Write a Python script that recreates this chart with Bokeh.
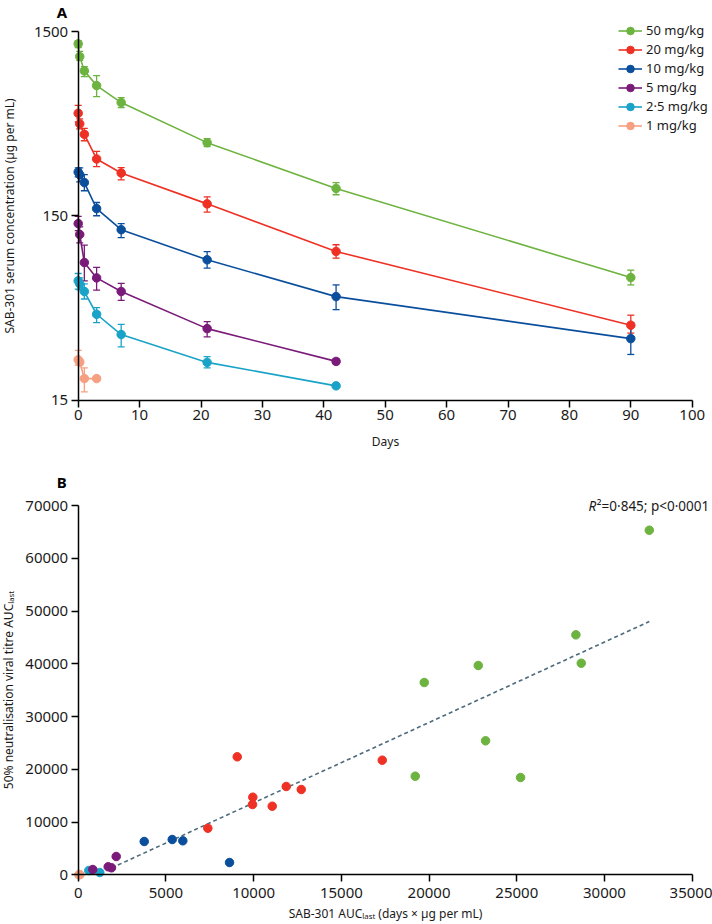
import math
from bokeh.plotting import figure
from bokeh.models import (ColumnDataSource, Whisker, TeeHead, Range1d, FixedTicker,
                          Legend, LegendItem, Label, NumeralTickFormatter)
from bokeh.layouts import column
from bokeh.embed import file_html
from bokeh.resources import INLINE

FONT = "Noto Sans"

# ---------------- Panel A data ----------------
days = [0, 0.25, 1, 3, 7, 21, 42, 90]
dose_labels = ["50 mg/kg", "20 mg/kg", "10 mg/kg", "5 mg/kg", "2·5 mg/kg", "1 mg/kg"]
dose_colors = ["#6db33f", "#ee3124", "#0b4f9c", "#7a1a79", "#1aa3c8", "#f7a081"]

conc_50 = [1286, 1097, 917, 763, 617, 374, 211, 69.3]
lo_50 = [1228, 1045, 854, 665, 580, 356, 195, 63.2]
hi_50 = [1340, 1170, 968, 864, 657, 393, 227, 76.0]

conc_20 = [540, 473, 415, 305, 256, 174, 96, 38.2]
lo_20 = [485, 444, 383, 277, 235, 157, 88.3, 34.6]
hi_20 = [596, 503, 447, 335, 274, 190, 104.4, 43.3]

conc_10 = [259, 250.5, 227, 164, 126, 86.5, 54.6, 32.3]
lo_10 = [244, 229, 205, 150, 114, 78, 46.4, 26.5]
hi_10 = [273, 273, 250.5, 177, 136, 95.7, 63.2, 39.3]

conc_5 = [136, 118.7, 83.6, 69, 58.2, 36.6, 24.3]
lo_5 = [124.6, 106.9, 66.4, 59.2, 52.1, 33, 23.6]
hi_5 = [148.7, 130.6, 104, 78.6, 64.4, 39.9, 25.1]

conc_2_5 = [66.5, 64, 58.2, 43.8, 34, 24, 17.9]
lo_2_5 = [60, 59.5, 53, 39.4, 29.1, 22.4, 17.9]
hi_2_5 = [72.9, 69, 64, 47.6, 38.6, 25.8, 17.9]

conc_1 = [24.8, 24.1, 19.6, 19.6]
lo_1 = [23.2, 23.2, 16.6, 19.6]
hi_1 = [27.9, 25.0, 22.4, 19.6]

a_xticks = [0, 10, 20, 30, 40, 50, 60, 70, 80, 90, 100]
a_yticks = [15, 150, 1500]

# ---------------- Panel B data ----------------
auc_50 = [19726, 22805, 28677, 23221, 19213, 25217, 32554, 28370]
titre_50 = [36448, 39670, 40107, 25398, 18689, 18442, 65315, 45489]
auc_20 = [7389, 9065, 9954, 9937, 11060, 11858, 12714, 17332]
titre_20 = [8832, 22365, 14708, 13324, 13002, 16736, 16168, 21721]
auc_10 = [3763, 5359, 5964, 8626]
titre_10 = [6312, 6691, 6444, 2331]
auc_5 = [832, 1710, 1898, 2166]
titre_5 = [1005, 1516, 1327, 3469]
auc_2_5 = [604, 1231]
titre_2_5 = [815, 436]
auc_1 = [40, 70, 100]
titre_1 = [20, 60, 30]

fit_slope = 1.524
fit_intercept = -1602
fit_x = [1900, 32554]
r2_text = "²=0·845; p<0·0001"

b_xticks = [0, 5000, 10000, 15000, 20000, 25000, 30000, 35000]
b_yticks = [0, 10000, 20000, 30000, 40000, 50000, 60000, 70000]

TXT = "#1a1a1a"

# ---------------- layout (pixels inside each figure) ----------------
W = 712
HA = 458
HB = 464
AX_LEFT = 77.7      # pixel of the y axis
AX_RIGHT = 691.7    # pixel of the last x tick
A_TOP, A_BOT = 31.0, 399.5
B_TOP, B_BOT = 47.0, 416.3


def span(v0, p0, v1, p1, pmin, pmax):
    k = (v1 - v0) / (p1 - p0)
    return v0 + (pmin - p0) * k, v0 + (pmax - p0) * k


def style_axes(p):
    for ax in (p.xaxis, p.yaxis):
        ax.axis_line_color = "black"
        ax.axis_line_width = 1.5
        ax.major_tick_line_color = "black"
        ax.major_tick_line_width = 1.5
        ax.major_tick_out = 7
        ax.major_tick_in = 0
        ax.minor_tick_line_color = None
        ax.major_label_text_font = FONT
        ax.major_label_text_font_size = "15px"
        ax.major_label_text_color = TXT
        ax.axis_label_text_font = FONT
        ax.axis_label_text_font_size = "12px"
        ax.axis_label_text_font_style = "normal"
        ax.axis_label_text_color = TXT
        ax.major_label_standoff = 3
    p.xgrid.visible = False
    p.ygrid.visible = False
    p.outline_line_color = None


# ---------------- Panel A ----------------
ax0, ax1 = span(a_xticks[0], AX_LEFT, a_xticks[-1], AX_RIGHT, 0, W)
ly0, ly1 = span(math.log10(a_yticks[0]), -A_BOT, math.log10(a_yticks[-1]), -A_TOP, -HA, 0)
pA = figure(width=W, height=HA, y_axis_type="log", title=None,
            x_range=Range1d(ax0, ax1), y_range=Range1d(10 ** ly0, 10 ** ly1),
            output_backend="svg", toolbar_location=None, min_border=0)
style_axes(pA)
pA.yaxis.fixed_location = a_xticks[0]
pA.xaxis.fixed_location = a_yticks[0]
pA.xaxis.bounds = (a_xticks[0], a_xticks[-1])
pA.yaxis.bounds = (a_yticks[0], a_yticks[-1])
pA.xaxis.ticker = FixedTicker(ticks=a_xticks)
pA.yaxis.ticker = FixedTicker(ticks=a_yticks)
pA.yaxis.major_label_overrides = {t: str(t) for t in a_yticks}
pA.xaxis.axis_label = "Days"
pA.yaxis.axis_label = "SAB-301 serum concentration (µg per mL)"
pA.yaxis.axis_label_standoff = 13
pA.xaxis.axis_label_standoff = 9
pA.xaxis.major_label_standoff = 3

seriesA = [
    (conc_50, lo_50, hi_50), (conc_20, lo_20, hi_20), (conc_10, lo_10, hi_10),
    (conc_5, lo_5, hi_5), (conc_2_5, lo_2_5, hi_2_5), (conc_1, lo_1, hi_1),
]
items = []
for lab, col, (c, lo, hi) in zip(dose_labels, dose_colors, seriesA):
    t = days[:len(c)]
    keep = [i for i in range(len(t)) if hi[i] > lo[i]]
    wsrc = ColumnDataSource(dict(t=[t[i] for i in keep], lo=[lo[i] for i in keep],
                                 hi=[hi[i] for i in keep]))
    w = Whisker(source=wsrc, base="t", lower="lo", upper="hi", dimension="height",
                line_color=col, line_width=1.3,
                upper_head=TeeHead(size=7, line_color=col, line_width=1.3),
                lower_head=TeeHead(size=7, line_color=col, line_width=1.3))
    pA.add_layout(w)
    src = ColumnDataSource(dict(t=t, c=c))
    ln = pA.line("t", "c", source=src, line_color=col, line_width=1.6)
    sc = pA.scatter("t", "c", source=src, marker="circle", size=8.5,
                    fill_color=col, line_color=col)
    items.append(LegendItem(label=lab, renderers=[ln, sc]))

legend = Legend(items=items, location=(618, HA - 20.5 - 6 * 19), glyph_width=24,
                glyph_height=19, label_height=19, label_standoff=4, spacing=0,
                padding=0, margin=0, border_line_color=None, background_fill_alpha=0,
                label_text_font=FONT, label_text_font_size="13px", label_text_color=TXT)
pA.add_layout(legend)

pA.add_layout(Label(x=a_xticks[0], y=a_yticks[-1], x_offset=-21.5, y_offset=20, text="A",
                    text_font=FONT, text_font_size="15px", text_font_style="bold",
                    text_align="left", text_baseline="alphabetic", text_color="black"))

# ---------------- Panel B ----------------
bx0, bx1 = span(b_xticks[0], AX_LEFT, b_xticks[-1], AX_RIGHT, 0, W)
by0, by1 = span(b_yticks[0], -B_BOT, b_yticks[-1], -B_TOP, -HB, 0)
pB = figure(width=W, height=HB, title=None,
            x_range=Range1d(bx0, bx1), y_range=Range1d(by0, by1),
            output_backend="svg", toolbar_location=None, min_border=0)
style_axes(pB)
pB.xaxis.fixed_location = b_yticks[0]
pB.yaxis.fixed_location = b_xticks[0]
pB.xaxis.bounds = (b_xticks[0], b_xticks[-1])
pB.yaxis.bounds = (b_yticks[0], b_yticks[-1])
pB.xaxis.ticker = FixedTicker(ticks=b_xticks)
pB.yaxis.ticker = FixedTicker(ticks=b_yticks)
pB.xaxis.formatter = NumeralTickFormatter(format="0")
pB.yaxis.formatter = NumeralTickFormatter(format="0")
pB.xaxis.axis_label = "SAB-301 AUCₗₐₛₜ (days × µg per mL)"
pB.yaxis.axis_label = "50% neutralisation viral titre AUCₗₐₛₜ"
pB.yaxis.axis_label_standoff = 6
pB.xaxis.axis_label_standoff = 4
pB.xaxis.major_label_standoff = 6

fx = fit_x
fy = [fit_slope * v + fit_intercept for v in fx]
pB.line(fx, fy, line_color="#4d6b7d", line_width=1.6, line_dash="4 3")

seriesB = [(auc_1, titre_1), (auc_2_5, titre_2_5), (auc_5, titre_5),
           (auc_10, titre_10), (auc_20, titre_20), (auc_50, titre_50)]
colsB = list(reversed(dose_colors))
for col, (xs, ys) in zip(colsB, seriesB):
    pB.scatter(xs, ys, marker="circle", size=8.5, fill_color=col, line_color=col)

pB.add_layout(Label(x=b_xticks[-1], y=b_yticks[-1], x_offset=17 - 113, text="R",
                    text_font=FONT, text_font_size="13.5px", text_font_style="italic",
                    text_align="right", text_baseline="middle", text_color=TXT))
pB.add_layout(Label(x=b_xticks[-1], y=b_yticks[-1], x_offset=17, text=r2_text,
                    text_font=FONT, text_font_size="13.5px",
                    text_align="right", text_baseline="middle", text_color=TXT))
pB.add_layout(Label(x=b_xticks[0], y=b_yticks[-1], x_offset=-21.5, y_offset=24, text="B",
                    text_font=FONT, text_font_size="15px", text_font_style="bold",
                    text_align="left", text_baseline="alphabetic", text_color="black"))

layout = column(pA, pB, spacing=0)
open("out.html", "w").write(file_html(layout, INLINE))
